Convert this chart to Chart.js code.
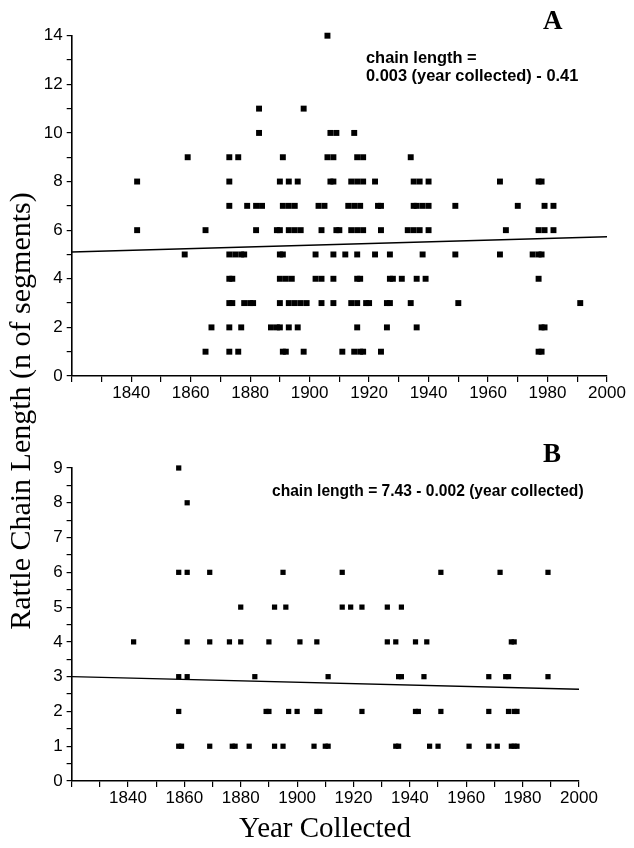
<!DOCTYPE html>
<html>
<head>
<meta charset="utf-8">
<script src="https://cdn.jsdelivr.net/npm/chart.js@4.4.1/dist/chart.umd.min.js"></script>
<style>
  html, body { margin: 0; padding: 0; background: #fff; }
  #wrap { position: relative; width: 634px; height: 848px; overflow: hidden; background: #fff; }
  canvas { position: absolute; left: 0; }
  .t { position: absolute; white-space: nowrap; color: #000; }
  .panel { font-family: "Liberation Serif", serif; font-weight: bold; font-size: 27px; line-height: 27px; }
  .eq { font-family: "Liberation Sans", Arial, sans-serif; font-weight: bold; line-height: 18px; }
  .title { font-family: "Liberation Serif", serif; font-weight: normal; }
</style>
</head>
<body>
<div id="wrap">
  <canvas id="cA" width="634" height="400" style="top:0px"></canvas>
  <canvas id="cB" width="634" height="400" style="top:420px"></canvas>
  <div class="t panel" style="left:543px; top:7px;">A</div>
  <div class="t panel" style="left:543px; top:440px;">B</div>
  <div class="t eq" style="left:366px; top:48px; font-size:16.4px;">chain length =<br>0.003 (year collected) - 0.41</div>
  <div class="t eq" style="left:272px; top:482px; font-size:15.6px;">chain length = 7.43 - 0.002 (year collected)</div>
  <div class="t title" style="left:325px; top:813px; font-size:29px; line-height:28px; transform:translateX(-50%);">Year Collected</div>
  <div class="t title" style="left:20px; top:411px; width:600px; height:30px; font-size:30px; line-height:30px; text-align:center; transform:translate(-50%,-50%) rotate(-90deg);">Rattle Chain Length (n of segments)</div>
</div>
<script>
// ---------- Data ----------
// Panel A: rattle chain length (segments) vs year collected
const lengthsA = [14, 11, 10, 9, 8, 7, 6, 5, 4, 3, 2, 1];
const yearsByLengthA = [
  [1906],
  [1883, 1898],
  [1883, 1907, 1909, 1915],
  [1859, 1873, 1876, 1891, 1906, 1908, 1916, 1918, 1934],
  [1842, 1873, 1890, 1893, 1896, 1907, 1908, 1914, 1916, 1918, 1922, 1935, 1937, 1940, 1964, 1977, 1978],
  [1873, 1879, 1882, 1884, 1891, 1893, 1895, 1903, 1905, 1913, 1915, 1917, 1923, 1924, 1935, 1936, 1938, 1940, 1949, 1970, 1979, 1982],
  [1842, 1865, 1882, 1889, 1890, 1893, 1895, 1897, 1904, 1909, 1910, 1914, 1916, 1918, 1924, 1933, 1935, 1937, 1940, 1966, 1977, 1979, 1982],
  [1858, 1873, 1875, 1877, 1878, 1890, 1891, 1902, 1908, 1912, 1916, 1922, 1927, 1938, 1949, 1964, 1975, 1977, 1978],
  [1873, 1874, 1890, 1892, 1894, 1902, 1904, 1908, 1916, 1917, 1927, 1928, 1931, 1936, 1939, 1977],
  [1873, 1874, 1878, 1880, 1881, 1890, 1893, 1895, 1897, 1899, 1904, 1908, 1914, 1916, 1919, 1920, 1926, 1927, 1934, 1950, 1991],
  [1867, 1873, 1877, 1887, 1889, 1890, 1893, 1896, 1916, 1926, 1936, 1978, 1979],
  [1865, 1873, 1876, 1891, 1892, 1898, 1911, 1915, 1917, 1918, 1924, 1977, 1978]
];
// Panel B
const lengthsB = [9, 8, 6, 5, 4, 3, 2, 1];
const yearsByLengthB = [
  [1858],
  [1861],
  [1858, 1861, 1869, 1895, 1916, 1951, 1972, 1989],
  [1880, 1892, 1896, 1916, 1919, 1923, 1932, 1937],
  [1842, 1861, 1869, 1876, 1880, 1890, 1901, 1907, 1932, 1935, 1942, 1946, 1976, 1977],
  [1858, 1861, 1885, 1911, 1936, 1937, 1945, 1968, 1974, 1975, 1989],
  [1858, 1889, 1890, 1897, 1900, 1907, 1908, 1923, 1942, 1943, 1951, 1968, 1975, 1977, 1978],
  [1858, 1859, 1869, 1877, 1878, 1883, 1892, 1895, 1906, 1910, 1911, 1935, 1936, 1947, 1950, 1961, 1968, 1971, 1976, 1977, 1978]
];
// Regression lines (end points as drawn)
const regYears = [1820, 2000];
const regLineA = [5.1, 5.73];
const regLineB = [3.0, 2.64];
// Tick labels
const xTickLabels = [1840, 1860, 1880, 1900, 1920, 1940, 1960, 1980, 2000];
const yTickLabelsA = [0, 2, 4, 6, 8, 10, 12, 14];
const yTickLabelsB = [0, 1, 2, 3, 4, 5, 6, 7, 8, 9];

// ---------- Build ----------
function toPoints(lengths, yearsBy) {
  const pts = [];
  lengths.forEach((len, i) => yearsBy[i].forEach(yr => pts.push({ x: yr, y: len })));
  return pts;
}
function lineData(ys) { return regYears.map((x, i) => ({ x: x, y: ys[i] })); }

Chart.defaults.font.family = '"Liberation Sans", Arial, sans-serif';
Chart.defaults.font.size = 17;
Chart.defaults.color = '#000';

function makeChart(id, pts, reg, yMax, yLabels, opts) {
  return new Chart(document.getElementById(id), {
    type: 'scatter',
    data: {
      datasets: [
        { data: pts, pointStyle: 'rect', pointRadius: opts.pr, pointHoverRadius: opts.pr,
          backgroundColor: '#000', borderWidth: 0, clip: false },
        { data: lineData(reg), showLine: true, borderColor: '#000', borderWidth: 1.4,
          pointRadius: 0, fill: false }
      ]
    },
    options: {
      responsive: false, animation: false, events: [],
      layout: { padding: { top: opts.top, right: opts.right, left: 0, bottom: 0 } },
      plugins: { legend: { display: false }, tooltip: { enabled: false } },
      scales: {
        x: {
          type: 'linear', min: 1820, max: 2000,
          afterFit: s => { s.height = opts.xh; },
          ticks: { stepSize: 10, autoSkip: false, maxRotation: 0, padding: 1,
                   callback: v => xTickLabels.includes(v) ? String(v) : '' },
          grid: { drawOnChartArea: false, drawTicks: true, tickLength: 6, color: '#000', lineWidth: 1.2 },
          border: { display: true, color: '#000', width: 1.6 }
        },
        y: {
          min: 0, max: yMax,
          afterFit: s => { s.width = opts.yw; },
          ticks: { stepSize: opts.ystep, autoSkip: false, padding: 4,
                   callback: v => yLabels.includes(v) ? String(v) : '' },
          grid: { drawOnChartArea: false, drawTicks: true, tickLength: 5, color: '#000', lineWidth: 1.2 },
          border: { display: true, color: '#000', width: 1.6 }
        }
      }
    }
  });
}

makeChart('cA', toPoints(lengthsA, yearsByLengthA), regLineA, 14, yTickLabelsA,
  { pr: 4.2, top: 35.7, right: 27, xh: 24, yw: 71.7, ystep: 1 });
makeChart('cB', toPoints(lengthsB, yearsByLengthB), regLineB, 9, yTickLabelsB,
  { pr: 3.7, top: 48, right: 55, xh: 39, yw: 71.6, ystep: 0.5 });
</script>
</body>
</html>
